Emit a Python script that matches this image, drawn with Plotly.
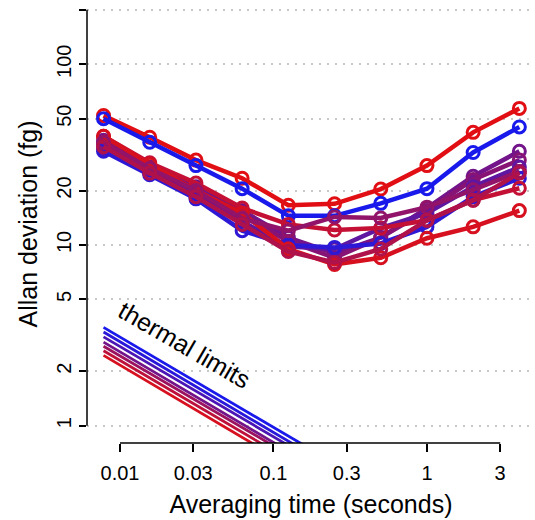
import plotly.graph_objects as go

# ---------------- data ----------------
tau = [1/128, 1/64, 1/32, 1/16, 1/8, 1/4, 1/2, 1, 2, 4]

series_values = [
    [52, 39.5, 29.5, 23.4, 16.6, 16.9, 20.4, 27.5, 42, 57],
    [50, 37, 27.5, 20.5, 14.5, 14.5, 17, 20.5, 32.5, 45],
    [38, 27, 21, 15.5, 11, 9, 11, 16, 24, 33],
    [36, 26, 19.5, 14.5, 10.5, 8.5, 11, 15.5, 23, 29.5],
    [34, 25, 19, 13.5, 9.8, 9.5, 12.4, 15, 21, 27],
    [33, 24.5, 18, 12, 10, 9.7, 10.2, 12.6, 18.5, 23.4],
    [40, 28.5, 22, 16, 13, 12.1, 12.4, 13.7, 17.7, 20.6],
    [40, 28, 20, 15, 9.5, 7.8, 8.5, 10.9, 12.6, 15.5],
    [37, 26.5, 20, 14, 12, 14.3, 14.1, 16.2, 20.2, 25.5],
    [35, 25, 18.5, 13, 9.2, 8, 9.5, 13.7, 17.7, 25],
]

thermal_tau = [1/128, 1/4]
thermal_start = [3.5, 3.3, 3.1, 2.9, 2.75, 2.6, 2.45]
thermal_end = [0.62, 0.58, 0.55, 0.51, 0.49, 0.46, 0.43]

y_tick_vals = [1, 2, 5, 10, 20, 50, 100, 200]
y_tick_text = ["1", "2", "5", "10", "20", "50", "100", ""]
x_tick_vals = [0.01, 0.03, 0.1, 0.3, 1, 3]
x_tick_text = ["0.01", "0.03", "0.1", "0.3", "1", "3"]

# ---------------- style ----------------
series_mix = [1.0, 0.0, 0.45, 0.55, 0.35, 0.1, 0.85, 0.95, 0.6, 0.75]
thermal_mix = [0.0, 0.08, 0.25, 0.45, 0.65, 0.82, 0.95]

BLUE = (25, 25, 235)
RED = (225, 15, 20)


def mix(t):
    r, g, b = (round(BLUE[i] + (RED[i] - BLUE[i]) * t) for i in range(3))
    return f"rgb({r},{g},{b})"


FONT = "Liberation Sans, Arial, Helvetica, sans-serif"

fig = go.Figure()

for vals, t in zip(series_values, series_mix):
    c = mix(t)
    fig.add_trace(go.Scatter(
        x=tau, y=vals, mode="lines+markers",
        line=dict(color=c, width=4.5),
        marker=dict(symbol="circle-open", size=12, color=c, line=dict(width=3, color=c)),
        showlegend=False, hoverinfo="skip", cliponaxis=False,
    ))

for s, e, t in zip(thermal_start, thermal_end, thermal_mix):
    fig.add_trace(go.Scatter(
        x=thermal_tau, y=[s, e], mode="lines",
        line=dict(color=mix(t), width=2.8),
        showlegend=False, hoverinfo="skip",
    ))

fig.add_annotation(
    x=-1.577, y=0.447, xref="x", yref="y", text="thermal limits",
    showarrow=False, textangle=30, font=dict(size=25, color="black", family=FONT),
    xanchor="center", yanchor="middle",
)

# R-style axis lines spanning first to last tick
fig.add_shape(type="line", xref="paper", yref="y", x0=0, x1=0, y0=1, y1=200,
              line=dict(color="black", width=1.5))
fig.add_shape(type="line", xref="x", yref="paper", x0=0.01, x1=3, y0=0, y1=0,
              line=dict(color="black", width=1.5))

fig.update_layout(
    width=535, height=520,
    margin=dict(l=87, r=0, t=5, b=77),
    plot_bgcolor="white", paper_bgcolor="white",
    font=dict(family=FONT, color="black"),
    xaxis=dict(
        type="log", range=[-2.215, 0.704],
        tickvals=x_tick_vals, ticktext=x_tick_text,
        ticks="outside", ticklen=8, tickwidth=1.5, tickcolor="black",
        showgrid=False, zeroline=False, showline=False,
        tickfont=dict(size=20), ticklabelstandoff=4,
        title=dict(text="Averaging time (seconds)", font=dict(size=25), standoff=12),
    ),
    yaxis=dict(
        type="log", range=[-0.0957, 2.328],
        tickvals=y_tick_vals, ticktext=y_tick_text,
        ticks="outside", ticklen=7, tickwidth=1.5, tickcolor="black",
        showgrid=True, gridcolor="#c8c8c8", griddash="2px,6px", gridwidth=1.5,
        zeroline=False, showline=False, tickangle=-90,
        tickfont=dict(size=20),
        title=dict(text="Allan deviation (fg)", font=dict(size=25), standoff=8),
    ),
)

fig.write_html("out.html")
